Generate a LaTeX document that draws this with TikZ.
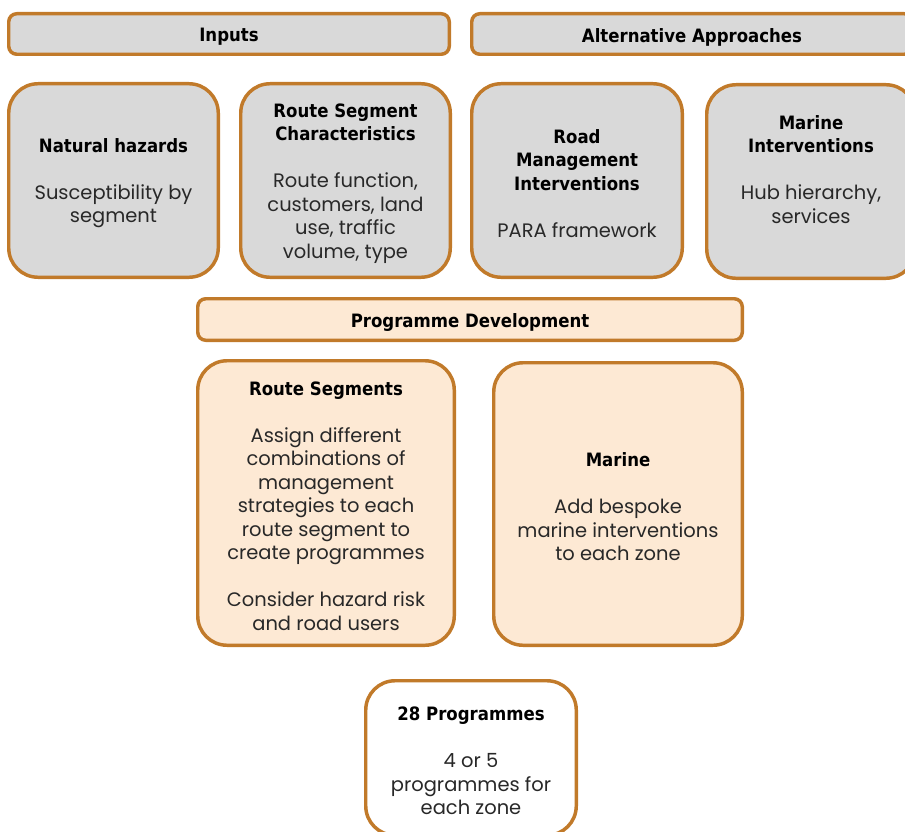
\documentclass[tikz,border=0pt]{standalone}
\usepackage{fontspec}
\setmainfont{Poppins}
\newfontfamily\headfont{DejaVu Sans}[FakeStretch=0.9]
\definecolor{brd}{RGB}{193,122,42}
\definecolor{grayfill}{RGB}{217,217,217}
\definecolor{peach}{RGB}{253,233,212}
\definecolor{bodytxt}{RGB}{40,40,40}
\newcommand{\hd}[1]{{\headfont\bfseries\fontsize{13.8}{17.6}\selectfont\color{black}#1}}
\tikzset{
  basebox/.style={draw=brd, line width=2.6pt, inner sep=0pt},
  headbox/.style={basebox, rounded corners=6pt},
  bigbox/.style={basebox, rounded corners=22pt},
  sz/.style 2 args={minimum width={#1*0.75pt-2.6pt}, minimum height={#2*0.75pt-2.6pt}},
  txt/.style={align=center, inner sep=0pt, text=bodytxt, yshift=-2.2pt,
    font=\fontsize{14.6}{17.6}\selectfont}
}
\begin{document}
\begin{tikzpicture}[x=0.75pt,y=-0.75pt]
\useasboundingbox (0,0) rectangle (905,831);
\clip (0,0) rectangle (905,831);
% header bars
\node[headbox, fill=grayfill, sz={444}{44}] (inputs) at (229,34) {};
\node[txt] (inputs-t) at (inputs.center) {\hd{Inputs}};
\node[headbox, fill=grayfill, sz={444}{44}] (alt) at (692,34) {};
\node[txt] (alt-t) at (alt.center) {\hd{Alternative Approaches}};
% input boxes
\node[bigbox, fill=grayfill, sz={213}{197}] (nat) at (113.5,180.5) {};
\node[txt] (nat-t) at (nat.center)
  {\hd{Natural hazards}\\[17.6pt] Susceptibility by\\ segment};
\node[bigbox, fill=grayfill, sz={213}{197}] (rsc) at (345.5,180.5) {};
\node[txt] (rsc-t) at (rsc.center)
  {\hd{Route Segment}\\ \hd{Characteristics}\\[17.6pt] Route function,\\ customers, land\\ use, traffic\\ volume, type};
\node[bigbox, fill=grayfill, sz={214}{197}] (rmi) at (577,180.5) {};
\node[txt] (rmi-t) at (rmi.center)
  {\hd{Road}\\ \hd{Management}\\ \hd{Interventions}\\[17.6pt] PARA framework};
\node[bigbox, fill=grayfill, sz={212}{197}] (mi) at (811,181.5) {};
\node[txt] (mi-t) at (mi.center)
  {\hd{Marine}\\ \hd{Interventions}\\[17.6pt] Hub hierarchy,\\ services\\ \strut};
% programme development
\node[headbox, fill=peach, sz={548}{45}] (pd) at (470,319.5) {};
\node[txt] (pd-t) at (pd.center) {\hd{Programme Development}};
\node[bigbox, fill=peach, sz={260}{288}] (rs) at (326,503) {};
\node[txt] (rs-t) at (rs.center)
  {\hd{Route Segments}\\[17.6pt] Assign different\\ combinations of\\ management\\ strategies to each\\ route segment to\\ create programmes\\[17.6pt] Consider hazard risk\\ and road users};
\node[bigbox, fill=peach, sz={252}{286}] (mar) at (618,504) {};
\node[txt] (mar-t) at (mar.center)
  {\hd{Marine}\\[17.6pt] Add bespoke\\ marine interventions\\ to each zone};
\node[bigbox, fill=white, sz={214}{158}] (prog) at (471,758) {};
\node[txt] (prog-t) at (prog.center)
  {\hd{28 Programmes}\\[17.6pt] 4 or 5\\ programmes for\\ each zone};
\end{tikzpicture}
\end{document}
